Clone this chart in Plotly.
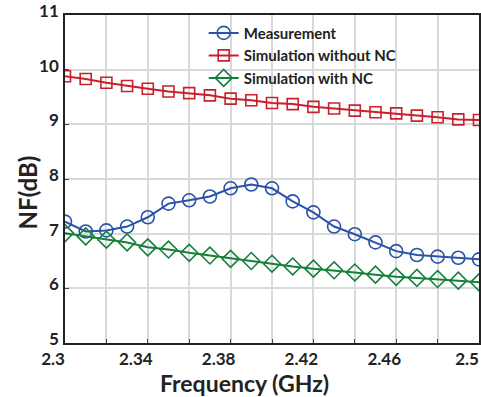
import plotly.graph_objects as go

freq = [2.30, 2.31, 2.32, 2.33, 2.34, 2.35, 2.36, 2.37, 2.38, 2.39, 2.40,
        2.41, 2.42, 2.43, 2.44, 2.45, 2.46, 2.47, 2.48, 2.49, 2.50]
measurement = [7.22, 7.04, 7.06, 7.13, 7.30, 7.55, 7.61, 7.68, 7.83, 7.90, 7.83,
               7.59, 7.39, 7.13, 6.99, 6.84, 6.68, 6.61, 6.58, 6.56, 6.53]
sim_without_nc = [9.88, 9.83, 9.76, 9.70, 9.65, 9.60, 9.57, 9.53, 9.47, 9.44, 9.39,
                  9.37, 9.32, 9.29, 9.25, 9.22, 9.20, 9.16, 9.13, 9.09, 9.08]
sim_with_nc = [7.01, 6.95, 6.89, 6.84, 6.75, 6.71, 6.65, 6.60, 6.54, 6.50, 6.45,
               6.40, 6.36, 6.33, 6.29, 6.25, 6.21, 6.19, 6.17, 6.14, 6.11]

x_tickvals = [2.30, 2.32, 2.34, 2.36, 2.38, 2.40, 2.42, 2.44, 2.46, 2.48, 2.50]
x_ticktext = ["2.3", "", "2.34", "", "2.38", "", "2.42", "", "2.46", "", "2.5"]
y_tickvals = [5, 6, 7, 8, 9, 10, 11]

FONT = "Lato, Open Sans, sans-serif"
TXT = "#222222"
BLUE = "#2a52a8"
RED = "#c8202c"
GREEN = "#14803a"

fig = go.Figure()
fig.add_trace(go.Scatter(
    x=freq, y=measurement, name="Measurement", mode="lines+markers",
    line=dict(color=BLUE, width=2),
    marker=dict(symbol="circle-open", size=13, color=BLUE, line=dict(width=1.6, color=BLUE))))
fig.add_trace(go.Scatter(
    x=freq, y=sim_without_nc, name="Simulation without NC", mode="lines+markers",
    line=dict(color=RED, width=2),
    marker=dict(symbol="square-open", size=11, color=RED, line=dict(width=1.6, color=RED))))
fig.add_trace(go.Scatter(
    x=freq, y=sim_with_nc, name="Simulation with NC", mode="lines+markers",
    line=dict(color=GREEN, width=2),
    marker=dict(symbol="diamond-open", size=13, color=GREEN, line=dict(width=1.6, color=GREEN))))

axis_common = dict(
    showline=True, linecolor="#222222", linewidth=1.5, mirror=True,
    showgrid=True, gridcolor="#d9d9d9", gridwidth=1.5,
    ticks="inside", ticklen=4, tickcolor="#444444", zeroline=False,
)

fig.update_xaxes(
    range=[2.3, 2.5], tickmode="array", tickvals=x_tickvals, ticktext=x_ticktext,
    tickfont=dict(family=FONT, size=17, color=TXT, weight="bold"),
    ticklabelshift=-12,
    **axis_common)
fig.update_yaxes(
    range=[5, 11], tickmode="array", tickvals=y_tickvals,
    tickfont=dict(family=FONT, size=17, color=TXT, weight="bold"),
    ticklabelshift=-4, ticklabelstandoff=1, ticklabeloverflow="allow",
    **axis_common)

fig.add_annotation(
    text="Frequency (GHz)", xref="paper", yref="paper", x=0.433, y=0,
    xanchor="center", yanchor="middle", yshift=-40, showarrow=False,
    font=dict(family=FONT, size=23, color=TXT, weight="bold"))
fig.add_annotation(
    text="NF(dB)", xref="paper", yref="paper", x=0, y=0.459,
    xanchor="center", yanchor="middle", xshift=-38, textangle=-90, showarrow=False,
    font=dict(family=FONT, size=24, color=TXT, weight="bold"))

fig.update_layout(
    width=481, height=397,
    margin=dict(l=65, r=0, t=12, b=54),
    paper_bgcolor="white", plot_bgcolor="white",
    showlegend=True,
    legend=dict(x=0.335, y=0.995, xanchor="left", yanchor="top",
                bgcolor="rgba(0,0,0,0)", borderwidth=0,
                font=dict(family=FONT, size=15, color=TXT, weight="bold"),
                tracegroupgap=0),
)

fig.write_html("out.html", config={"displayModeBar": False},
               post_script="document.body.style.margin='0';document.body.style.overflow='hidden';")
